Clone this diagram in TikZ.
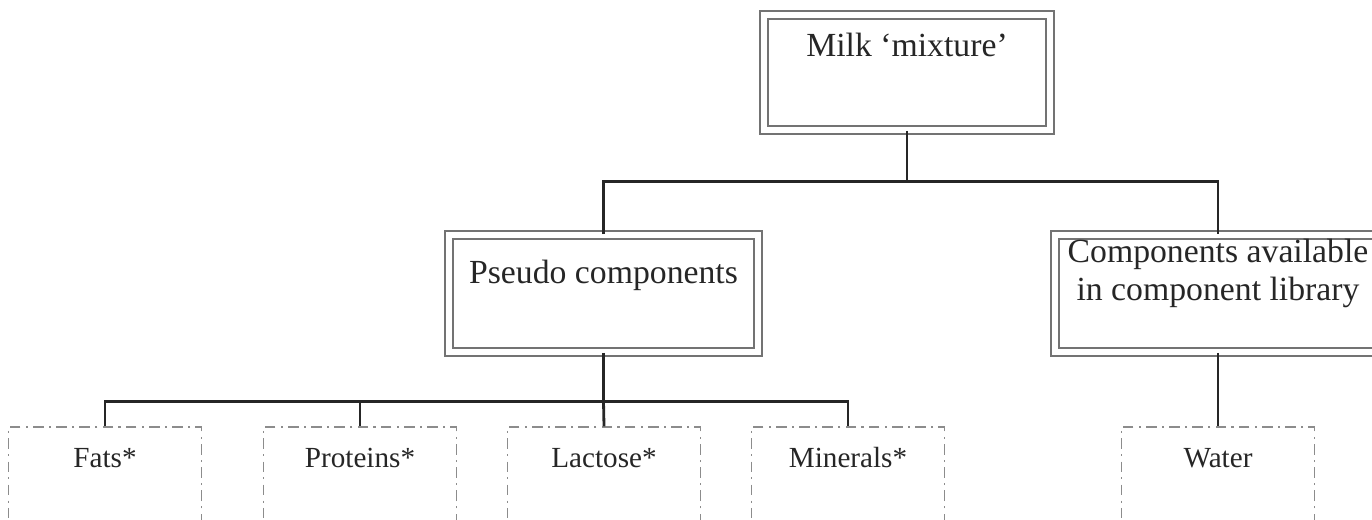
\documentclass[tikz,border=0pt]{standalone}
\usepackage{fontspec}
\setmainfont{Liberation Serif}
\usetikzlibrary{positioning}

\begin{document}
\begin{tikzpicture}[
  every node/.style={text=black!85},
  mainbox/.style={draw=black!55, double=white, double distance=1.6pt,
    line width=0.5pt, inner sep=0pt, align=center,
    font=\fontsize{9.6}{10.8}\selectfont},
  leafbox/.style={draw=black!45, dash pattern=on 3pt off 1.5pt on 0.6pt off 1.5pt,
    line width=0.4pt, inner sep=0pt, minimum width=1.93cm,
    text height=0.40cm, text depth=0.73cm, font=\fontsize{8.3}{10}\selectfont},
  link/.style={draw=black!85, line width=0.8pt},
]
  \useasboundingbox (0,0) rectangle (13.72,-5.2);

  \node[mainbox, minimum width=2.86cm, text height=0.42cm, text depth=0.73cm]
       (milk) at (9.07,-0.725) {Milk `mixture'};
  \node[mainbox, minimum width=3.09cm, text height=0.48cm, text depth=0.69cm]
       (pseudo) at (6.035,-2.935) {Pseudo components};
  % two lines: the baseline is that of the last line
  \node[mainbox, minimum width=3.26cm, text height=0.65cm, text depth=0.52cm]
       (comp) at (12.18,-2.935) {Components available\\in component library};

  \foreach \name/\x/\txt in {fats/1.05/Fats*, proteins/3.60/Proteins*,
      lactose/6.04/Lactose*, minerals/8.48/Minerals*, water/12.18/Water} {
    \node[leafbox] (\name) at (\x,-4.835) {\txt};
  }

  \draw[link] (milk.south) -- ++(0,-0.51) coordinate (milkjoin);
  \draw[link] (pseudo.north) |- (milkjoin) -| (comp.north);
  \draw[link] (pseudo.south) -- ++(0,-0.49) coordinate (pseudojoin);
  \draw[link] (fats.north) |- (pseudojoin) -| (minerals.north);
  \draw[link] (proteins.north) -- (proteins.north |- pseudojoin);
  \draw[link] (lactose.north) -- (pseudojoin);
  \draw[link] (comp.south) -- (water.north);
\end{tikzpicture}
\end{document}
